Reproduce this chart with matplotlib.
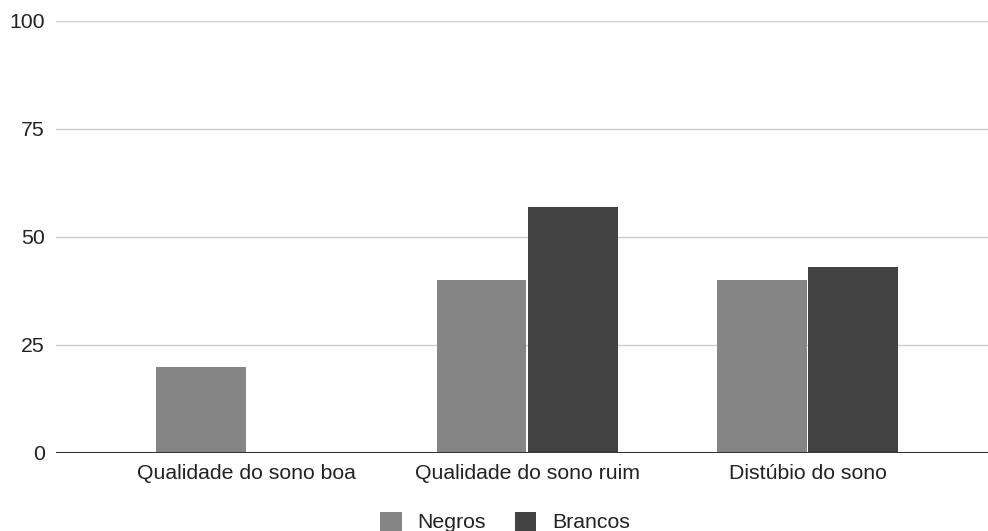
import matplotlib
matplotlib.use("Agg")
import matplotlib.pyplot as plt
import numpy as np

categories = ["Qualidade do sono boa", "Qualidade do sono ruim", "Distúbio do sono"]
negros = [20, 40, 40]
brancos = [0, 57, 43]
series_names = ["Negros", "Brancos"]
yticks = [0, 25, 50, 75, 100]

plt.rcParams['font.family'] = ['Liberation Sans', 'DejaVu Sans']

fig = plt.figure(figsize=(9.88, 5.31), dpi=100)
ax = fig.add_axes([56/988, 78/531, (988-56)/988, (453-21)/531])

x = np.arange(len(categories))
w = 0.32
off = 0.1625
c_neg = "#858585"
c_bra = "#424242"
ax.bar(x - off, negros, w, color=c_neg, label=series_names[0], zorder=3)
ax.bar(x + off, brancos, w, color=c_bra, label=series_names[1], zorder=3)

ax.set_xlim(-0.679, 2.643)
ax.set_ylim(0, 100)
ax.set_yticks(yticks)
ax.set_yticklabels([str(t) for t in yticks])
ax.set_xticks(x)
ax.set_xticklabels(categories)
ax.tick_params(axis='both', length=0, labelsize=15.3, colors="#222222")
ax.tick_params(axis='y', pad=8)
ax.tick_params(axis='x', pad=8)
ax.grid(axis='y', color="#cccccc", linewidth=1.0, zorder=0)
ax.set_axisbelow(True)
for s in ax.spines.values():
    s.set_visible(False)
ax.axhline(0, color="#333333", linewidth=1.5, zorder=4)

fig.legend(loc='center', bbox_to_anchor=(505/988, 9/531), ncol=2, frameon=False,
           fontsize=15.3, handlelength=1.0, handleheight=1.0, handletextpad=0.75,
           columnspacing=1.35, labelcolor="#222222")

fig.savefig("out.png", dpi=100)
